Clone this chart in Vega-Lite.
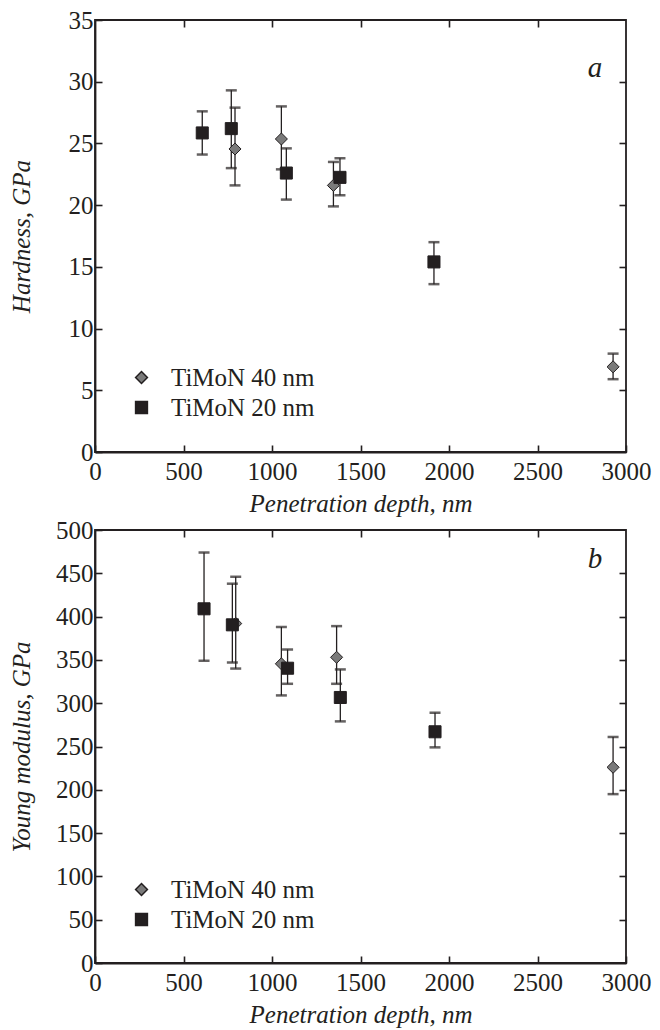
{
  "$schema": "https://vega.github.io/schema/vega-lite/v6.json",
  "padding": {"top": 7, "left": 8, "right": 5, "bottom": 5},
  "config": {
    "font": "Liberation Serif",
    "view": {"stroke": "#231f20", "strokeWidth": 1.8},
    "axis": {"labelFont": "Liberation Serif", "labelFontSize": 25, "labelColor": "#231f20", "titleFont": "Liberation Serif", "titleFontSize": 25, "titleColor": "#231f20", "titleFontWeight": "normal", "titleFontStyle": "italic", "domainColor": "#231f20", "domainWidth": 1.8, "tickColor": "#231f20", "tickWidth": 1.6, "tickSize": -7, "grid": false, "format": "d", "labelFlush": false, "labelOverlap": false},
    "axisX": {"labelPadding": 14, "titlePadding": 7},
    "axisY": {"labelPadding": 9, "titleX": -66, "titleBaseline": "alphabetic"},
    "legend": {"labelFont": "Liberation Serif", "labelFontSize": 25, "labelColor": "#231f20"}
  },
  "datasets": {
    "hard": [
      {"series": "TiMoN 40 nm", "depth": 791, "val": 24.55, "lo": 21.6, "hi": 27.9},
      {"series": "TiMoN 40 nm", "depth": 1053, "val": 25.36, "lo": 22.9, "hi": 28.0},
      {"series": "TiMoN 40 nm", "depth": 1347, "val": 21.6, "lo": 19.9, "hi": 23.5},
      {"series": "TiMoN 40 nm", "depth": 2927, "val": 6.9, "lo": 5.9, "hi": 7.97},
      {"series": "TiMoN 20 nm", "depth": 606, "val": 25.85, "lo": 24.1, "hi": 27.6},
      {"series": "TiMoN 20 nm", "depth": 770, "val": 26.2, "lo": 23.0, "hi": 29.3},
      {"series": "TiMoN 20 nm", "depth": 1081, "val": 22.6, "lo": 20.45, "hi": 24.6},
      {"series": "TiMoN 20 nm", "depth": 1384, "val": 22.25, "lo": 20.8, "hi": 23.8},
      {"series": "TiMoN 20 nm", "depth": 1915, "val": 15.4, "lo": 13.6, "hi": 17.0}
    ],
    "young": [
      {"series": "TiMoN 40 nm", "depth": 795, "val": 392, "lo": 340, "hi": 446},
      {"series": "TiMoN 40 nm", "depth": 1053, "val": 345.5, "lo": 309, "hi": 388},
      {"series": "TiMoN 40 nm", "depth": 1365, "val": 353, "lo": 322.4, "hi": 389},
      {"series": "TiMoN 40 nm", "depth": 2927, "val": 226, "lo": 195, "hi": 261},
      {"series": "TiMoN 20 nm", "depth": 616, "val": 409, "lo": 349, "hi": 474},
      {"series": "TiMoN 20 nm", "depth": 776, "val": 390.5, "lo": 347, "hi": 438},
      {"series": "TiMoN 20 nm", "depth": 1088, "val": 340.4, "lo": 322.4, "hi": 362},
      {"series": "TiMoN 20 nm", "depth": 1386, "val": 306.6, "lo": 279, "hi": 339},
      {"series": "TiMoN 20 nm", "depth": 1921, "val": 267, "lo": 249, "hi": 289}
    ],
    "labA": [{"depth": 2825, "val": 31.1, "txt": "a"}],
    "labB": [{"depth": 2825, "val": 466, "txt": "b"}]
  },
  "spacing": 0,
  "vconcat": [
    {
      "width": 531, "height": 432,
      "layer": [
        {
          "data": {"name": "hard"},
          "mark": {"type": "rule", "color": "#231f20", "strokeWidth": 1.3},
          "encoding": {
            "x": {"field": "depth", "type": "quantitative", "scale": {"domain": [0, 3000], "nice": false}, "axis": {"orient": "top", "labels": false, "title": null, "values": [500, 1000, 1500, 2000, 2500], "domain": false}},
            "y": {"field": "lo", "type": "quantitative", "scale": {"domain": [0, 35], "nice": false}, "axis": {"orient": "right", "labels": false, "title": null, "values": [5, 10, 15, 20, 25, 30], "domain": false}},
            "y2": {"field": "hi"}
          }
        },
        {
          "data": {"name": "hard"},
          "mark": {"type": "tick", "orient": "horizontal", "color": "#231f20", "size": 11, "thickness": 2.5},
          "encoding": {
            "x": {"field": "depth", "type": "quantitative", "axis": null},
            "y": {"field": "lo", "type": "quantitative", "axis": null}
          }
        },
        {
          "data": {"name": "hard"},
          "mark": {"type": "tick", "orient": "horizontal", "color": "#231f20", "size": 11, "thickness": 2.5},
          "encoding": {
            "x": {"field": "depth", "type": "quantitative", "axis": null},
            "y": {"field": "hi", "type": "quantitative", "axis": null}
          }
        },
        {
          "data": {"name": "hard"},
          "mark": {"type": "point", "filled": true, "opacity": 1, "stroke": "#231f20", "strokeWidth": 1},
          "encoding": {
            "x": {"field": "depth", "type": "quantitative", "axis": {"orient": "bottom", "title": "Penetration depth, nm", "values": [0, 500, 1000, 1500, 2000, 2500, 3000]}},
            "y": {"field": "val", "type": "quantitative", "axis": {"orient": "left", "title": "Hardness, GPa", "values": [0, 5, 10, 15, 20, 25, 30, 35]}},
            "shape": {"field": "series", "type": "nominal", "scale": {"domain": ["TiMoN 40 nm", "TiMoN 20 nm"], "range": ["diamond", "square"]}, "legend": {"orient": "none", "legendX": 34, "legendY": 345, "title": null, "labelOffset": 17, "rowPadding": 4, "symbolSize": 140, "padding": 0}},
            "fill": {"field": "series", "type": "nominal", "scale": {"domain": ["TiMoN 40 nm", "TiMoN 20 nm"], "range": ["#7a7a7a", "#231f20"]}, "legend": null},
            "size": {"value": 145}
          }
        },
        {
          "data": {"name": "labA"},
          "mark": {"type": "text", "font": "Liberation Serif", "fontStyle": "italic", "fontSize": 29, "color": "#231f20"},
          "encoding": {
            "x": {"field": "depth", "type": "quantitative", "axis": null},
            "y": {"field": "val", "type": "quantitative", "axis": null},
            "text": {"field": "txt"}
          }
        }
      ],
      "resolve": {"axis": {"x": "independent", "y": "independent"}}
    },
    {
      "width": 531, "height": 433,
      "layer": [
        {
          "data": {"name": "young"},
          "mark": {"type": "rule", "color": "#231f20", "strokeWidth": 1.3},
          "encoding": {
            "x": {"field": "depth", "type": "quantitative", "scale": {"domain": [0, 3000], "nice": false}, "axis": {"orient": "top", "labels": false, "title": null, "values": [500, 1000, 1500, 2000, 2500], "domain": false}},
            "y": {"field": "lo", "type": "quantitative", "scale": {"domain": [0, 500], "nice": false}, "axis": {"orient": "right", "labels": false, "title": null, "values": [50, 100, 150, 200, 250, 300, 350, 400, 450], "domain": false}},
            "y2": {"field": "hi"}
          }
        },
        {
          "data": {"name": "young"},
          "mark": {"type": "tick", "orient": "horizontal", "color": "#231f20", "size": 11, "thickness": 2.5},
          "encoding": {
            "x": {"field": "depth", "type": "quantitative", "axis": null},
            "y": {"field": "lo", "type": "quantitative", "axis": null}
          }
        },
        {
          "data": {"name": "young"},
          "mark": {"type": "tick", "orient": "horizontal", "color": "#231f20", "size": 11, "thickness": 2.5},
          "encoding": {
            "x": {"field": "depth", "type": "quantitative", "axis": null},
            "y": {"field": "hi", "type": "quantitative", "axis": null}
          }
        },
        {
          "data": {"name": "young"},
          "mark": {"type": "point", "filled": true, "opacity": 1, "stroke": "#231f20", "strokeWidth": 1},
          "encoding": {
            "x": {"field": "depth", "type": "quantitative", "axis": {"orient": "bottom", "title": "Penetration depth, nm", "values": [0, 500, 1000, 1500, 2000, 2500, 3000]}},
            "y": {"field": "val", "type": "quantitative", "axis": {"orient": "left", "title": "Young modulus, GPa", "values": [0, 50, 100, 150, 200, 250, 300, 350, 400, 450, 500]}},
            "shape": {"field": "series", "type": "nominal", "scale": {"domain": ["TiMoN 40 nm", "TiMoN 20 nm"], "range": ["diamond", "square"]}, "legend": {"orient": "none", "legendX": 34, "legendY": 347, "title": null, "labelOffset": 17, "rowPadding": 4, "symbolSize": 140, "padding": 0}},
            "fill": {"field": "series", "type": "nominal", "scale": {"domain": ["TiMoN 40 nm", "TiMoN 20 nm"], "range": ["#7a7a7a", "#231f20"]}, "legend": null},
            "size": {"value": 145}
          }
        },
        {
          "data": {"name": "labB"},
          "mark": {"type": "text", "font": "Liberation Serif", "fontStyle": "italic", "fontSize": 29, "color": "#231f20"},
          "encoding": {
            "x": {"field": "depth", "type": "quantitative", "axis": null},
            "y": {"field": "val", "type": "quantitative", "axis": null},
            "text": {"field": "txt"}
          }
        }
      ],
      "resolve": {"axis": {"x": "independent", "y": "independent"}}
    }
  ],
  "resolve": {"scale": {"shape": "independent", "fill": "independent"}, "legend": {"shape": "independent", "fill": "independent"}}
}
